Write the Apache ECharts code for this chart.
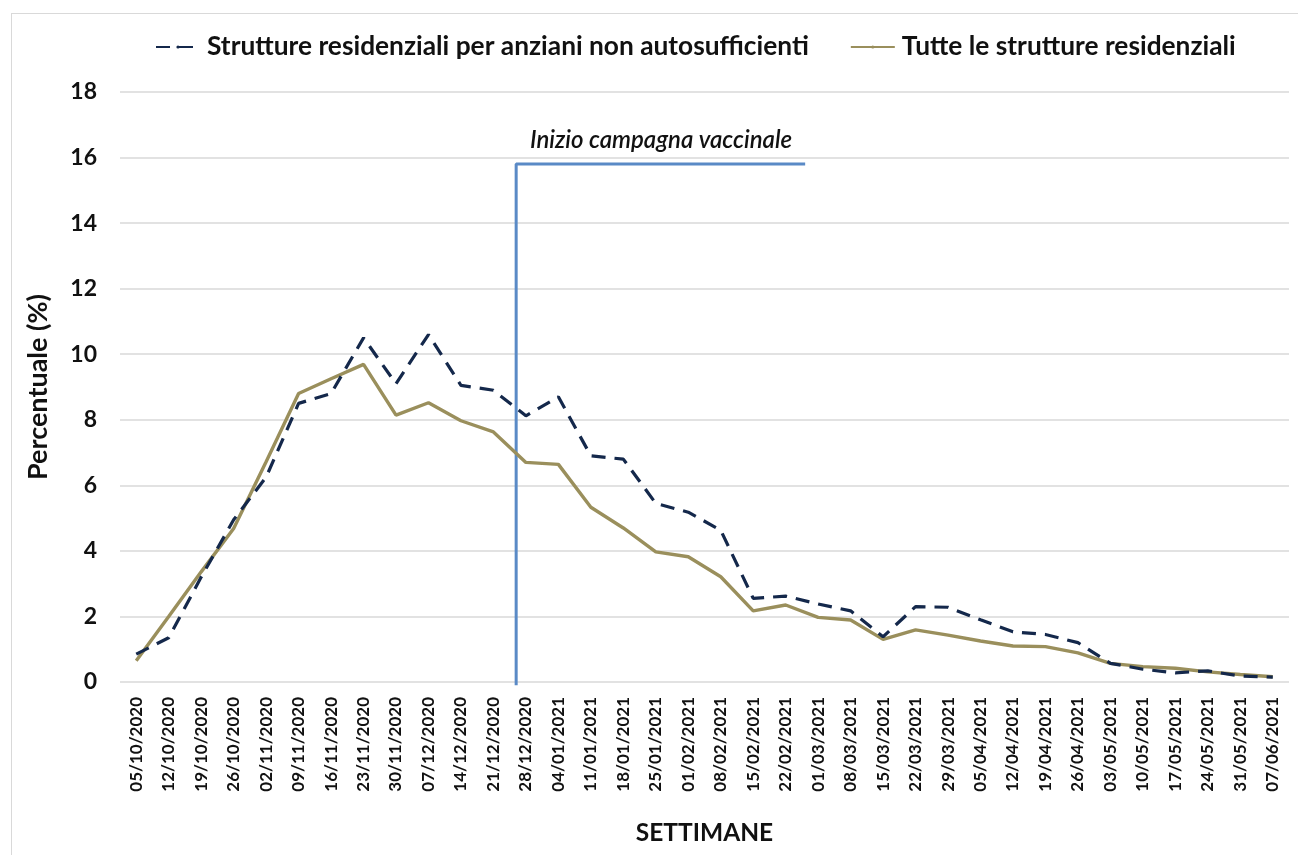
<!DOCTYPE html>
<html lang="it">
<head>
  <meta charset="UTF-8" />
  <title>Percentuale settimanale</title>
  <script src="https://cdn.jsdelivr.net/npm/echarts@6.0.0/dist/echarts.min.js"></script>
  <style>
    html, body { margin: 0; padding: 0; background: #fff; }
    #frame { position: absolute; left: 11px; top: 13px; right: 0; bottom: 0; border-left: 1px solid #d9d9d9; border-top: 1px solid #d9d9d9; }
    #chart { position: absolute; left: 0; top: 0; width: 1298px; height: 855px; }
  </style>
</head>
<body>
  <div id="frame"></div>
  <div id="chart"></div>
  <script>
    // settimane (lunedì)
    const settimane = [
      '05/10/2020', '12/10/2020', '19/10/2020', '26/10/2020', '02/11/2020', '09/11/2020',
      '16/11/2020', '23/11/2020', '30/11/2020', '07/12/2020', '14/12/2020', '21/12/2020',
      '28/12/2020', '04/01/2021', '11/01/2021', '18/01/2021', '25/01/2021', '01/02/2021',
      '08/02/2021', '15/02/2021', '22/02/2021', '01/03/2021', '08/03/2021', '15/03/2021',
      '22/03/2021', '29/03/2021', '05/04/2021', '12/04/2021', '19/04/2021', '26/04/2021',
      '03/05/2021', '10/05/2021', '17/05/2021', '24/05/2021', '31/05/2021', '07/06/2021'
    ];

    const anzianiNonAuto = [
      0.85, 1.35, 3.2, 4.95, 6.25, 8.5, 8.8, 10.5, 9.1, 10.6, 9.05, 8.9,
      8.12, 8.7, 6.9, 6.8, 5.45, 5.18, 4.63, 2.55, 2.62, 2.38, 2.17, 1.38,
      2.3, 2.28, 1.9, 1.53, 1.45, 1.2, 0.57, 0.39, 0.28, 0.34, 0.18, 0.15
    ];

    const tutteStrutture = [
      0.65, 2.0, 3.36, 4.68, 6.72, 8.8, 9.25, 9.69, 8.14, 8.52, 7.97, 7.63,
      6.7, 6.64, 5.33, 4.7, 3.97, 3.82, 3.21, 2.17, 2.35, 1.97, 1.89, 1.3,
      1.59, 1.43, 1.25, 1.1, 1.08, 0.89, 0.57, 0.47, 0.42, 0.31, 0.23, 0.16
    ];

    // linea "Inizio campagna vaccinale" (x in unità di categoria, y in %)
    const lineaVaccino = [[12.2, -0.1], [12.2, 15.8], [21.1, 15.8]];

    const yTicks = { min: 0, max: 18, interval: 2 };

    const font = 'Lato, "Open Sans", sans-serif';
    const chart = echarts.init(document.getElementById('chart'));

    chart.setOption({
      animation: false,
      textStyle: { fontFamily: font },
      title: {
        text: 'Inizio campagna vaccinale',
        left: 525,
        top: 123,
        textStyle: { fontFamily: font, fontStyle: 'italic', fontWeight: 600, fontSize: 24, color: '#111' }
      },
      legend: {
        top: 29,
        left: 150,
        itemGap: 41,
        itemWidth: 44,
        itemHeight: 4,
        textStyle: { fontFamily: font, fontWeight: 'bold', fontSize: 26.3, color: '#111', padding: [0, 0, 0, 2] },
        data: ['Strutture residenziali per anziani non autosufficienti', 'Tutte le strutture residenziali']
      },
      grid: { left: 120, right: 9, top: 92, bottom: 173, containLabel: false, outerBoundsMode: 'none' },
      xAxis: [{
        type: 'category',
        data: settimane,
        boundaryGap: true,
        axisLine: { show: false },
        axisTick: { show: false },
        axisLabel: { rotate: 90, fontSize: 17, fontWeight: 'bold', color: '#111', margin: 15, interval: 0 },
        name: 'SETTIMANE',
        nameLocation: 'middle',
        nameGap: 139,
        nameTextStyle: { fontSize: 24.5, fontWeight: 'bold', color: '#111' }
      }, {
        type: 'value',
        min: 0,
        max: 36,
        show: false
      }],
      yAxis: {
        type: 'value',
        min: yTicks.min,
        max: yTicks.max,
        interval: yTicks.interval,
        axisLine: { show: false },
        axisTick: { show: false },
        splitLine: { lineStyle: { color: '#d9d9d9', width: 1.5 } },
        axisLabel: { fontSize: 23, fontWeight: 'bold', color: '#111', margin: 23 },
        name: 'Percentuale (%)',
        nameLocation: 'middle',
        nameGap: 68,
        nameTextStyle: { fontSize: 27, fontWeight: 'bold', color: '#111' }
      },
      series: [{
        name: 'Strutture residenziali per anziani non autosufficienti',
        type: 'line',
        data: anzianiNonAuto,
        symbol: 'none',
        z: 3,
        itemStyle: { color: '#14284b' },
        lineStyle: { color: '#14284b', width: 3.2, type: [14, 9] }
      }, {
        name: 'Tutte le strutture residenziali',
        type: 'line',
        data: tutteStrutture,
        symbol: 'none',
        z: 2,
        itemStyle: { color: '#9a8f5c' },
        lineStyle: { color: '#9a8f5c', width: 3.4 }
      }, {
        name: 'vaccino',
        type: 'line',
        xAxisIndex: 1,
        data: lineaVaccino,
        symbol: 'none',
        clip: false,
        silent: true,
        z: 1,
        lineStyle: { color: '#5a8ac6', width: 3 }
      }]
    });
  </script>
</body>
</html>
